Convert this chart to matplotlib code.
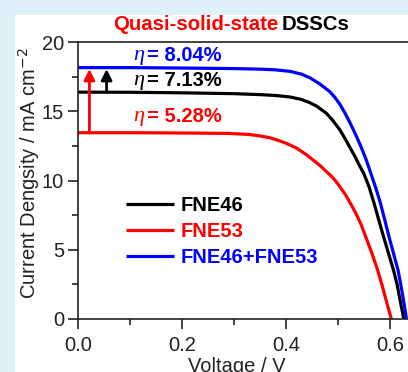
import matplotlib
matplotlib.use('Agg')
from matplotlib import pyplot as plt
from matplotlib.patches import Rectangle
from matplotlib.ticker import MultipleLocator

plt.rcParams['font.family'] = ['Liberation Sans', 'DejaVu Sans']

# J-V curves (V in volts, J in mA cm^-2)
v_fne46 = [0, 0.1, 0.2, 0.3, 0.35, 0.38, 0.408, 0.43, 0.446, 0.46, 0.478, 0.49, 0.504,
           0.515, 0.523, 0.532, 0.540, 0.550, 0.56, 0.569, 0.578, 0.588, 0.597, 0.607,
           0.614, 0.620, 0.627]
j_fne46 = [16.38, 16.37, 16.33, 16.27, 16.2, 16.14, 16.03, 15.85, 15.62, 15.35, 14.85,
           14.35, 13.65, 12.95, 12.4, 11.8, 11.2, 10.5, 9.55, 8.45, 7.25, 5.94, 4.8, 3.54,
           2.5, 1.3, 0]

v_fne53 = [0, 0.1, 0.2, 0.29, 0.33, 0.35, 0.37, 0.385, 0.40, 0.42, 0.44, 0.465, 0.485,
           0.495, 0.504, 0.515, 0.525, 0.535, 0.545, 0.553, 0.565, 0.576, 0.585, 0.594,
           0.603]
j_fne53 = [13.45, 13.45, 13.43, 13.4, 13.32, 13.22, 13.08, 12.9, 12.7, 12.35, 11.85, 11.1,
           10.4, 10.0, 9.55, 8.95, 8.3, 7.6, 6.8, 6.0, 4.8, 3.6, 2.45, 1.2, 0]

v_mix = [0, 0.1, 0.2, 0.3, 0.35, 0.38, 0.408, 0.43, 0.446, 0.465, 0.485, 0.495, 0.504,
         0.514, 0.523, 0.535, 0.545, 0.555, 0.565, 0.574, 0.582, 0.59, 0.598, 0.607,
         0.616, 0.622, 0.627, 0.632]
j_mix = [18.15, 18.15, 18.12, 18.08, 18.04, 17.99, 17.88, 17.68, 17.42, 16.98, 16.4,
         15.97, 15.5, 14.85, 14.2, 13.25, 12.4, 11.45, 10.35, 9.35, 8.35, 7.2, 6.0, 4.75,
         3.5, 2.3, 1.2, 0]

labels = ['FNE46', 'FNE53', 'FNE46+FNE53']
colors = ['black', 'red', 'blue']
efficiencies = ['7.13%', '5.28%', '8.04%']
eta_y = [17.25, 14.6, 19.05]

fig = plt.figure(figsize=(4.08, 3.72), dpi=100)
fig.patch.set_facecolor('#dff1fa')
fig.patches.append(Rectangle((15 / 408, 0), 1, 1 - 15 / 372, transform=fig.transFigure,
                             facecolor='white', edgecolor='none', zorder=-10))

ax = fig.add_axes([78 / 408, 53 / 372, 330 / 408, 277 / 372])
ax.set_facecolor('none')

for v, j, lab, c in zip([v_fne46, v_fne53, v_mix], [j_fne46, j_fne53, j_mix], labels, colors):
    ax.plot(v, j, color=c, lw=2.3, label=lab, solid_capstyle='butt',
            solid_joinstyle='round')

# arrows showing the Jsc gain of the co-sensitised cell
for x, j0, c in [(0.022, j_fne53[0], 'red'), (0.055, j_fne46[0], 'black')]:
    ax.annotate('', xy=(x, j_mix[0] - 0.1), xytext=(x, j0),
                arrowprops=dict(arrowstyle='-|>', color=c, lw=2, mutation_scale=16,
                                shrinkA=0, shrinkB=0))

for eff, y, c in zip(efficiencies, eta_y, colors):
    ax.text(0.107, y, '\u03b7', color=c, fontsize=16, family='Liberation Serif',
            style='italic', ha='left', va='center')
    ax.text(0.132, y, '= ' + eff, color=c, fontsize=14.5, fontweight='bold',
            ha='left', va='center')

ax.set_xlim(0, 0.635)
ax.set_ylim(0, 20)
ax.xaxis.set_minor_locator(MultipleLocator(0.1))
ax.yaxis.set_major_locator(MultipleLocator(5))
ax.yaxis.set_minor_locator(MultipleLocator(2.5))
ax.set_xticks([0, 0.2, 0.4, 0.6])
ax.set_xticklabels(['0.0', '0.2', '0.4', '0.6'])
ax.tick_params(which='major', direction='out', length=7, width=1.2, labelsize=14.5,
               colors='#222222')
ax.tick_params(axis='x', which='major', pad=5)
ax.tick_params(axis='y', which='major', pad=3)
ax.tick_params(which='minor', direction='out', length=4, width=1.2, colors='#222222')
ax.spines['right'].set_visible(False)
for s in ['left', 'bottom', 'top']:
    ax.spines[s].set_linewidth(1.2)
    ax.spines[s].set_color('#222222')

leg = ax.legend(loc='upper left', bbox_to_anchor=(0.145, 0.445), frameon=False,
                borderpad=0, borderaxespad=0, handlelength=2.4, handletextpad=0.3,
                labelspacing=0.35, prop={'weight': 'bold', 'size': 14.5},
                labelcolor='linecolor')

fig.text(29 / 408, 0.535, 'Current Dengsity / mA cm$^{-2}$', rotation=90,
         ha='center', va='center', fontsize=14.5, color='#222222')
fig.text(0.58, 15 / 372, 'Voltage / V', ha='center', va='top', fontsize=14.5,
         color='#222222')

fig.text(113 / 408, 1 - 24.5 / 372, 'Quasi-solid-state', color='red', fontsize=14.7,
         fontweight='bold', ha='left', va='center')
fig.text(282 / 408, 1 - 24.5 / 372, 'DSSCs', color='black', fontsize=14.7,
         fontweight='bold', ha='left', va='center')

plt.savefig('out.png', dpi=100)
